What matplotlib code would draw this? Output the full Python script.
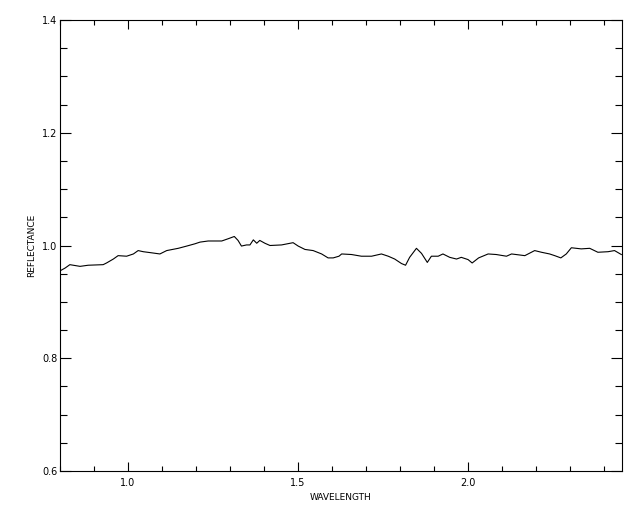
import matplotlib
matplotlib.use("Agg")
import matplotlib.pyplot as plt
from matplotlib.ticker import MultipleLocator

wavelength = [0.800, 0.815, 0.829, 0.859, 0.883, 0.927, 0.937, 0.957, 0.971, 0.996,
              1.016, 1.030, 1.045, 1.070, 1.094, 1.114, 1.148, 1.173, 1.197, 1.212,
              1.236, 1.276, 1.295, 1.313, 1.324, 1.334, 1.349, 1.359, 1.369, 1.379,
              1.388, 1.403, 1.418, 1.452, 1.486, 1.501, 1.521, 1.545, 1.570, 1.589,
              1.604, 1.621, 1.629, 1.658, 1.687, 1.717, 1.746, 1.766, 1.785, 1.805,
              1.817, 1.829, 1.849, 1.864, 1.881, 1.893, 1.913, 1.927, 1.947, 1.967,
              1.981, 2.001, 2.013, 2.032, 2.060, 2.084, 2.114, 2.129, 2.168, 2.197,
              2.217, 2.241, 2.256, 2.274, 2.290, 2.305, 2.334, 2.359, 2.383, 2.413,
              2.432, 2.452]
reflectance = [0.955, 0.960, 0.966, 0.963, 0.965, 0.966, 0.969, 0.976, 0.982, 0.981,
               0.985, 0.991, 0.989, 0.987, 0.985, 0.991, 0.995, 0.999, 1.003, 1.006,
               1.008, 1.008, 1.012, 1.016, 1.009, 0.999, 1.001, 1.001, 1.010, 1.004,
               1.009, 1.004, 1.000, 1.001, 1.005, 0.999, 0.993, 0.991, 0.985, 0.978,
               0.978, 0.981, 0.985, 0.984, 0.981, 0.981, 0.985, 0.981, 0.976, 0.968,
               0.965, 0.979, 0.995, 0.986, 0.970, 0.981, 0.981, 0.985, 0.979, 0.976,
               0.979, 0.975, 0.969, 0.978, 0.985, 0.984, 0.981, 0.985, 0.982, 0.991,
               0.988, 0.985, 0.982, 0.978, 0.985, 0.996, 0.994, 0.995, 0.988, 0.989,
               0.991, 0.984]

x_ticks = [1.0, 1.5, 2.0]
x_tick_labels = ["1.0", "1.5", "2.0"]
y_ticks = [0.6, 0.8, 1.0, 1.2, 1.4]
y_tick_labels = ["0.6", "0.8", "1.0", "1.2", "1.4"]

fig = plt.figure(figsize=(6.4, 5.12), dpi=100)
ax = fig.add_axes([60/640, 1-471/512, 562/640, 451/512])
ax.plot(wavelength, reflectance, color="black", linewidth=0.8)
ax.set_xlim(0.8, 2.454)
ax.set_ylim(0.6, 1.4)
ax.set_xticks(x_ticks)
ax.set_xticklabels(x_tick_labels)
ax.set_yticks(y_ticks)
ax.set_yticklabels(y_tick_labels)
ax.xaxis.set_minor_locator(MultipleLocator(0.1))
ax.yaxis.set_minor_locator(MultipleLocator(0.05))
for s in ax.spines.values():
    s.set_linewidth(0.8)
ax.tick_params(axis="x", which="major", direction="in", length=6.5, width=0.8,
               top=True, bottom=True, labelsize=7, pad=5)
ax.tick_params(axis="x", which="minor", direction="in", length=3.6, width=0.8,
               top=True, bottom=True)
ax.tick_params(axis="y", which="major", direction="in", length=7.9, width=0.8,
               left=True, right=True, labelsize=7, pad=2)
ax.tick_params(axis="y", which="minor", direction="in", length=4.7, width=0.8,
               left=True, right=True)
ax.set_xlabel("WAVELENGTH", fontsize=6.5, labelpad=4)
ax.set_ylabel("REFLECTANCE", fontsize=6.5, labelpad=4)
fig.savefig("out.png", dpi=100)
